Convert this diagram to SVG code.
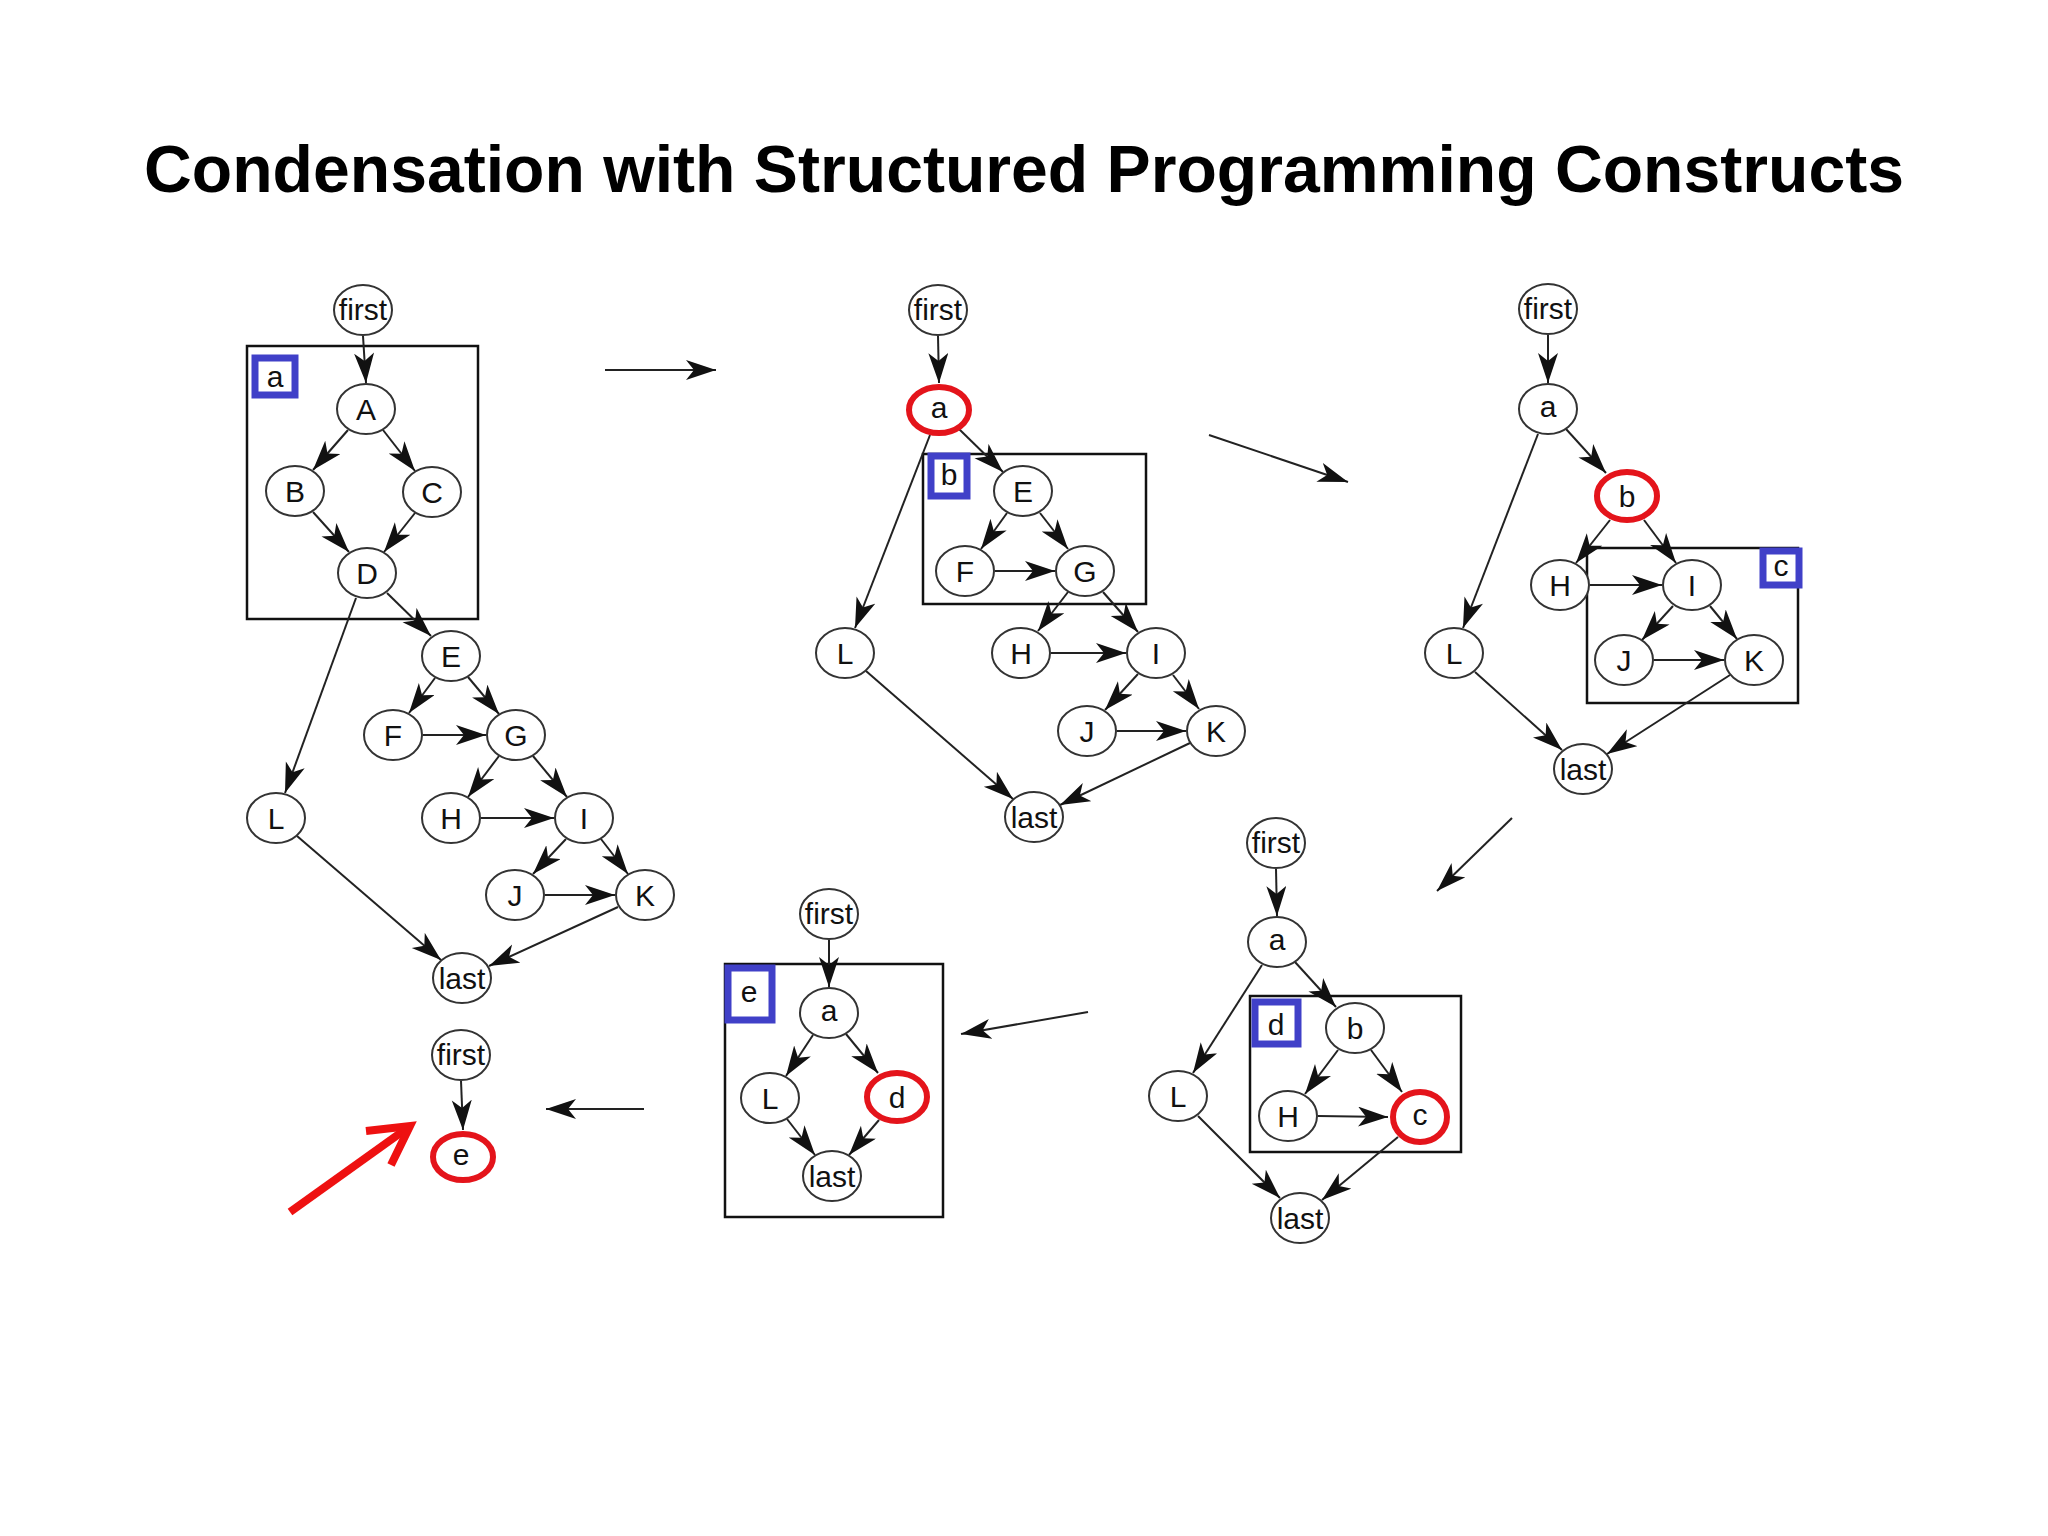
<svg xmlns="http://www.w3.org/2000/svg" width="2048" height="1536" viewBox="0 0 2048 1536">
<defs>
<marker id="ah" markerUnits="userSpaceOnUse" markerWidth="32" markerHeight="22" refX="30" refY="10" orient="auto">
<path d="M0,0 L30,10 L0,20 L8,10 Z" fill="#111"/>
</marker>
<style>
.n ellipse{fill:#fff;stroke:#333;stroke-width:2}
.n.r ellipse{stroke:#e4141b;stroke-width:6}
.n text,.lb text{font-family:"Liberation Sans",Arial,sans-serif;font-size:30px;fill:#111;text-anchor:middle}
.e line{stroke:#222;stroke-width:2;marker-end:url(#ah)}
.box{fill:none;stroke:#111;stroke-width:2.5}
.lb rect{fill:#fff;stroke:#4040c8;stroke-width:7}
.title{font-family:"Liberation Sans",Arial,sans-serif;font-weight:bold;font-size:66px;fill:#000}
</style>
</defs>
<rect width="2048" height="1536" fill="#fff"/>
<text class="title" x="144" y="192" textLength="1760" lengthAdjust="spacingAndGlyphs">Condensation with Structured Programming Constructs</text>

<g id="clusters">
<rect class="box" x="247" y="346" width="231" height="273"/>
<rect class="box" x="923" y="454" width="223" height="150"/>
<rect class="box" x="1587" y="548" width="211" height="155"/>
<rect class="box" x="1250" y="996" width="211" height="156"/>
<rect class="box" x="725" y="964" width="218" height="253"/>
</g>

<g id="connectors" class="e">
<line x1="363" y1="336" x2="366" y2="383"/>
<line x1="348" y1="430" x2="313" y2="470"/>
<line x1="383" y1="430" x2="415" y2="471"/>
<line x1="313" y1="512" x2="349" y2="552"/>
<line x1="415" y1="513" x2="384" y2="552"/>
<line x1="387" y1="593" x2="431" y2="636"/>
<line x1="356" y1="598" x2="285" y2="793"/>
<line x1="435" y1="678" x2="409" y2="713"/>
<line x1="468" y1="677" x2="499" y2="714"/>
<line x1="423" y1="735" x2="486" y2="735"/>
<line x1="499" y1="756" x2="468" y2="797"/>
<line x1="533" y1="756" x2="567" y2="797"/>
<line x1="481" y1="818" x2="554" y2="818"/>
<line x1="566" y1="839" x2="533" y2="874"/>
<line x1="601" y1="839" x2="628" y2="874"/>
<line x1="545" y1="895" x2="615" y2="895"/>
<line x1="297" y1="836" x2="441" y2="960"/>
<line x1="618" y1="907" x2="489" y2="966"/>
<line x1="938" y1="336" x2="939" y2="383"/>
<line x1="959" y1="429" x2="1003" y2="472"/>
<line x1="930" y1="435" x2="855" y2="628"/>
<line x1="1007" y1="513" x2="981" y2="549"/>
<line x1="1040" y1="513" x2="1068" y2="549"/>
<line x1="995" y1="571" x2="1055" y2="571"/>
<line x1="1068" y1="592" x2="1038" y2="631"/>
<line x1="1103" y1="592" x2="1138" y2="632"/>
<line x1="1051" y1="653" x2="1126" y2="653"/>
<line x1="1138" y1="674" x2="1105" y2="710"/>
<line x1="1173" y1="675" x2="1199" y2="709"/>
<line x1="1117" y1="731" x2="1186" y2="731"/>
<line x1="866" y1="671" x2="1013" y2="799"/>
<line x1="1190" y1="743" x2="1060" y2="805"/>
<line x1="1548" y1="335" x2="1548" y2="383"/>
<line x1="1566" y1="429" x2="1606" y2="473"/>
<line x1="1538" y1="434" x2="1463" y2="628"/>
<line x1="1610" y1="520" x2="1576" y2="563"/>
<line x1="1644" y1="520" x2="1676" y2="563"/>
<line x1="1590" y1="585" x2="1662" y2="585"/>
<line x1="1673" y1="606" x2="1642" y2="640"/>
<line x1="1710" y1="606" x2="1737" y2="639"/>
<line x1="1654" y1="660" x2="1724" y2="660"/>
<line x1="1475" y1="672" x2="1562" y2="750"/>
<line x1="1730" y1="675" x2="1607" y2="754"/>
<line x1="1276" y1="869" x2="1277" y2="916"/>
<line x1="1295" y1="962" x2="1336" y2="1007"/>
<line x1="1262" y1="965" x2="1193" y2="1073"/>
<line x1="1338" y1="1050" x2="1305" y2="1094"/>
<line x1="1371" y1="1050" x2="1402" y2="1092"/>
<line x1="1318" y1="1116" x2="1388" y2="1117"/>
<line x1="1198" y1="1116" x2="1280" y2="1198"/>
<line x1="1398" y1="1137" x2="1322" y2="1200"/>
<line x1="829" y1="940" x2="829" y2="987"/>
<line x1="813" y1="1035" x2="786" y2="1076"/>
<line x1="846" y1="1034" x2="878" y2="1073"/>
<line x1="787" y1="1119" x2="815" y2="1155"/>
<line x1="879" y1="1120" x2="849" y2="1155"/>
<line x1="461" y1="1081" x2="463" y2="1130"/>
<line x1="605" y1="370" x2="716" y2="370"/>
<line x1="1209" y1="435" x2="1348" y2="482"/>
<line x1="1512" y1="818" x2="1437" y2="891"/>
<line x1="1088" y1="1012" x2="961" y2="1034"/>
<line x1="644" y1="1109" x2="546" y2="1109"/>
</g>

<g id="pointer">
<line x1="290" y1="1212" x2="406" y2="1129" stroke="#ee1111" stroke-width="8"/>
<polyline points="366,1131 410,1126 391,1165" fill="none" stroke="#ee1111" stroke-width="8" stroke-linejoin="miter"/>
</g>

<g id="label-a" class="lb"><rect x="255" y="358" width="40" height="37"/><text x="275" y="387">a</text></g>
<g id="label-b" class="lb"><rect x="931" y="456" width="36" height="40"/><text x="949" y="485">b</text></g>
<g id="label-c" class="lb"><rect x="1763" y="551" width="36" height="34"/><text x="1781" y="576">c</text></g>
<g id="label-d" class="lb"><rect x="1255" y="1002" width="43" height="42"/><text x="1276" y="1035">d</text></g>
<g id="label-e" class="lb"><rect x="728" y="968" width="44" height="52"/><text x="749" y="1002">e</text></g>

<g id="g1-first" class="n"><ellipse cx="363" cy="310" rx="29" ry="25"/><text x="363" y="320">first</text></g>
<g id="g1-A" class="n"><ellipse cx="366" cy="409" rx="29" ry="25"/><text x="366" y="420">A</text></g>
<g id="g1-B" class="n"><ellipse cx="295" cy="491" rx="29" ry="25"/><text x="295" y="502">B</text></g>
<g id="g1-C" class="n"><ellipse cx="432" cy="492" rx="29" ry="25"/><text x="432" y="503">C</text></g>
<g id="g1-D" class="n"><ellipse cx="367" cy="573" rx="29" ry="25"/><text x="367" y="584">D</text></g>
<g id="g1-E" class="n"><ellipse cx="451" cy="656" rx="29" ry="25"/><text x="451" y="667">E</text></g>
<g id="g1-F" class="n"><ellipse cx="393" cy="735" rx="29" ry="25"/><text x="393" y="746">F</text></g>
<g id="g1-G" class="n"><ellipse cx="516" cy="735" rx="29" ry="25"/><text x="516" y="746">G</text></g>
<g id="g1-H" class="n"><ellipse cx="451" cy="818" rx="29" ry="25"/><text x="451" y="829">H</text></g>
<g id="g1-I" class="n"><ellipse cx="584" cy="818" rx="29" ry="25"/><text x="584" y="829">I</text></g>
<g id="g1-J" class="n"><ellipse cx="515" cy="895" rx="29" ry="25"/><text x="515" y="906">J</text></g>
<g id="g1-K" class="n"><ellipse cx="645" cy="895" rx="29" ry="25"/><text x="645" y="906">K</text></g>
<g id="g1-L" class="n"><ellipse cx="276" cy="818" rx="29" ry="25"/><text x="276" y="829">L</text></g>
<g id="g1-last" class="n"><ellipse cx="462" cy="978" rx="29" ry="25"/><text x="462" y="989">last</text></g>

<g id="g2-first" class="n"><ellipse cx="938" cy="310" rx="29" ry="25"/><text x="938" y="320">first</text></g>
<g id="g2-a" class="n r"><ellipse cx="939" cy="410" rx="30" ry="23"/><text x="939" y="418">a</text></g>
<g id="g2-E" class="n"><ellipse cx="1023" cy="491" rx="29" ry="25"/><text x="1023" y="502">E</text></g>
<g id="g2-F" class="n"><ellipse cx="965" cy="571" rx="29" ry="25"/><text x="965" y="582">F</text></g>
<g id="g2-G" class="n"><ellipse cx="1085" cy="571" rx="29" ry="25"/><text x="1085" y="582">G</text></g>
<g id="g2-H" class="n"><ellipse cx="1021" cy="653" rx="29" ry="25"/><text x="1021" y="664">H</text></g>
<g id="g2-I" class="n"><ellipse cx="1156" cy="653" rx="29" ry="25"/><text x="1156" y="664">I</text></g>
<g id="g2-J" class="n"><ellipse cx="1087" cy="731" rx="29" ry="25"/><text x="1087" y="742">J</text></g>
<g id="g2-K" class="n"><ellipse cx="1216" cy="731" rx="29" ry="25"/><text x="1216" y="742">K</text></g>
<g id="g2-L" class="n"><ellipse cx="845" cy="653" rx="29" ry="25"/><text x="845" y="664">L</text></g>
<g id="g2-last" class="n"><ellipse cx="1034" cy="817" rx="29" ry="25"/><text x="1034" y="828">last</text></g>

<g id="g3-first" class="n"><ellipse cx="1548" cy="309" rx="29" ry="25"/><text x="1548" y="319">first</text></g>
<g id="g3-a" class="n"><ellipse cx="1548" cy="409" rx="29" ry="25"/><text x="1548" y="417">a</text></g>
<g id="g3-b" class="n r"><ellipse cx="1627" cy="496" rx="30" ry="24"/><text x="1627" y="507">b</text></g>
<g id="g3-H" class="n"><ellipse cx="1560" cy="585" rx="29" ry="25"/><text x="1560" y="596">H</text></g>
<g id="g3-I" class="n"><ellipse cx="1692" cy="585" rx="29" ry="25"/><text x="1692" y="596">I</text></g>
<g id="g3-J" class="n"><ellipse cx="1624" cy="660" rx="29" ry="25"/><text x="1624" y="671">J</text></g>
<g id="g3-K" class="n"><ellipse cx="1754" cy="660" rx="29" ry="25"/><text x="1754" y="671">K</text></g>
<g id="g3-L" class="n"><ellipse cx="1454" cy="653" rx="29" ry="25"/><text x="1454" y="664">L</text></g>
<g id="g3-last" class="n"><ellipse cx="1583" cy="769" rx="29" ry="25"/><text x="1583" y="780">last</text></g>

<g id="g4-first" class="n"><ellipse cx="1276" cy="843" rx="29" ry="25"/><text x="1276" y="853">first</text></g>
<g id="g4-a" class="n"><ellipse cx="1277" cy="942" rx="29" ry="25"/><text x="1277" y="950">a</text></g>
<g id="g4-b" class="n"><ellipse cx="1355" cy="1028" rx="29" ry="25"/><text x="1355" y="1039">b</text></g>
<g id="g4-H" class="n"><ellipse cx="1288" cy="1116" rx="29" ry="25"/><text x="1288" y="1127">H</text></g>
<g id="g4-c" class="n r"><ellipse cx="1420" cy="1117" rx="27" ry="25"/><text x="1420" y="1125">c</text></g>
<g id="g4-L" class="n"><ellipse cx="1178" cy="1096" rx="29" ry="25"/><text x="1178" y="1107">L</text></g>
<g id="g4-last" class="n"><ellipse cx="1300" cy="1218" rx="29" ry="25"/><text x="1300" y="1229">last</text></g>

<g id="g5-first" class="n"><ellipse cx="829" cy="914" rx="29" ry="25"/><text x="829" y="924">first</text></g>
<g id="g5-a" class="n"><ellipse cx="829" cy="1013" rx="29" ry="25"/><text x="829" y="1021">a</text></g>
<g id="g5-L" class="n"><ellipse cx="770" cy="1098" rx="29" ry="25"/><text x="770" y="1109">L</text></g>
<g id="g5-d" class="n r"><ellipse cx="897" cy="1097" rx="30" ry="24"/><text x="897" y="1108">d</text></g>
<g id="g5-last" class="n"><ellipse cx="832" cy="1176" rx="29" ry="25"/><text x="832" y="1187">last</text></g>

<g id="g6-first" class="n"><ellipse cx="461" cy="1055" rx="29" ry="25"/><text x="461" y="1065">first</text></g>
<g id="g6-e" class="n r"><ellipse cx="463" cy="1157" rx="30" ry="23"/><text x="461" y="1165">e</text></g>
</svg>
